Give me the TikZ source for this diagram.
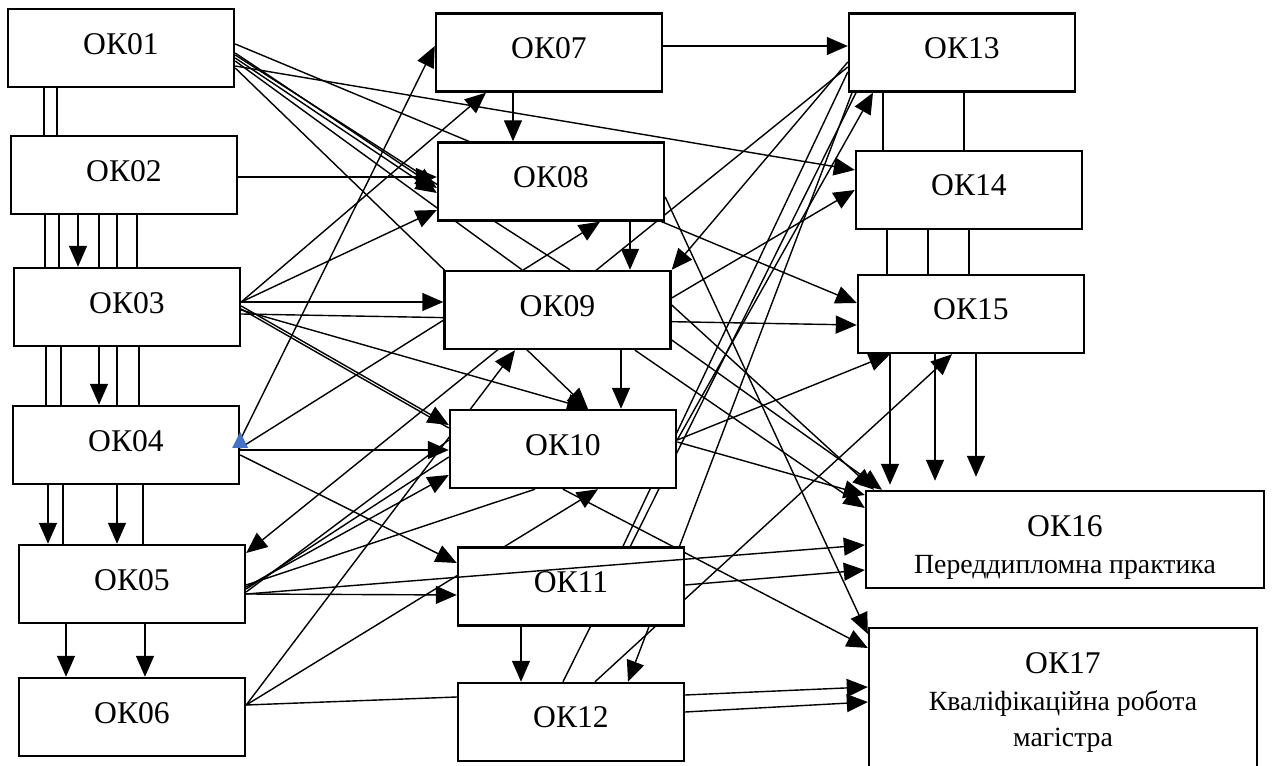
\documentclass[tikz,border=0pt]{standalone}
\usepackage{fontspec}
\setmainfont{Liberation Serif}
\usetikzlibrary{arrows.meta,backgrounds}

\definecolor{markblue}{HTML}{4472C4}
\tikzset{
  okbox/.style={draw, line width=1.4pt, fill=white, minimum width=4.52cm, minimum height=1.56cm, inner sep=0pt, text depth=0.18cm},
  bigbox/.style={draw, line width=1.4pt, fill=white, inner sep=0pt, align=center},
  ln/.style={line width=0.8pt},
  arr/.style={ln, -{Triangle[length=4.2mm,width=3.6mm]}},
}
\newcommand\subtxt[1]{{\fontsize{15.8}{21}\selectfont #1}}

\begin{document}
\begin{tikzpicture}[x=0.02cm, y=-0.02cm, every node/.style={font=\fontsize{18}{21}\selectfont}]
  \useasboundingbox (0,0) rectangle (1272,766);

  % Left column
  \node[okbox] (ok01) at (121,48) {ОК01};
  \node[okbox] (ok02) at (124,175) {ОК02};
  \node[okbox] (ok03) at (127,307) {ОК03};
  \node[okbox] (ok04) at (126,445) {ОК04};
  \node[okbox] (ok05) at (132,584) {ОК05};
  \node[okbox] (ok06) at (132,717) {ОК06};

  % Middle column
  \node[okbox] (ok07) at (549,52.5) {ОК07};
  \node[okbox] (ok08) at (551,181.5) {ОК08};
  \node[okbox] (ok09) at (557.5,310) {ОК09};
  \node[okbox] (ok10) at (563,449) {ОК10};
  \node[okbox] (ok11) at (571,586.5) {ОК11};
  \node[okbox] (ok12) at (571,722) {ОК12};

  % Right column
  \node[okbox] (ok13) at (962,52.5) {ОК13};
  \node[okbox] (ok14) at (969,190) {ОК14};
  \node[okbox] (ok15) at (971,314) {ОК15};
  \node[bigbox, minimum width=7.96cm, minimum height=1.94cm] (ok16) at (1065,539.5)
    {\rule{0pt}{0.75cm}ОК16\\ \subtxt{Переддипломна практика}};
  \node[bigbox, minimum width=7.76cm, minimum height=2.8cm] (ok17) at (1063,698)
    {\rule{0pt}{0.6cm}ОК17\\ \subtxt{Кваліфікаційна робота}\\ \subtxt{магістра}};

  \begin{pgfonlayer}{background}
    % Left column links
    \foreach \x in {44,57} \draw[ln] (ok01.south -| \x,0) -- (ok02.north -| \x,0);
    \foreach \x in {45,59,99,117,137} \draw[ln] (ok02.south -| \x,0) -- (ok03.north -| \x,0);
    \draw[arr] (ok02.south -| 78,0) -- (ok03.north -| 78,0);
    \foreach \x in {46,61,117,139} \draw[ln] (ok03.south -| \x,0) -- (ok04.north -| \x,0);
    \draw[arr] (ok03.south -| 99,0) -- (ok04.north -| 99,0);
    \foreach \x in {63,143} \draw[ln] (ok04.south -| \x,0) -- (ok05.north -| \x,0);
    \foreach \x in {48,117} \draw[arr] (ok04.south -| \x,0) -- (ok05.north -| \x,0);
    \foreach \x in {66,145} \draw[arr] (ok05.south -| \x,0) -- (ok06.north -| \x,0);

    % Middle column links
    \draw[arr] (ok07.south -| 513,0) -- (ok08.north -| 513,0);
    \draw[arr] (ok08.south -| 630,0) -- (ok09.north -| 630,0);
    \draw[arr] (ok09.south -| 621,0) -- (ok10.north -| 621,0);
    \draw[arr] (ok11.south -| 521,0) -- (ok12.north -| 521,0);

    % Right column links
    \foreach \x in {883,964} \draw[ln] (ok13.south -| \x,0) -- (ok14.north -| \x,0);
    \foreach \x in {887,928,969} \draw[ln] (ok14.south -| \x,0) -- (ok15.north -| \x,0);
    \foreach \x/\gap in {890/1mm,935/1.8mm,976/2.6mm}
      \draw[arr, shorten >=\gap] (ok15.south -| \x,0) -- (ok16.north -| \x,0);

    % From OK01
    \draw[arr] (ok01.east |- 0,44) -- (ok15.west |- 0,303);
    \draw[arr] (ok01.east |- 0,66) -- (ok14.west |- 0,170);
    \draw[arr] (ok01.east |- 0,53) -- (ok08.west |- 0,188);
    \draw[arr] (ok01.east |- 0,58) -- (ok08.west |- 0,193);
    \draw[ln] (ok01.east |- 0,61) -- (ok09.north -| 522,0);
    \draw[ln] (ok01.east |- 0,55) -- (ok09.north -| 570,0);
    \draw[arr] (ok01.east |- 0,68) -- (ok10.north -| 588,0);

    % From OK02
    \draw[arr] (ok02.east |- 0,177) -- (ok08.west |- 0,177);

    % From OK03
    \draw[arr] (ok03.east |- 0,302) -- (ok07.south -| 486,0);
    \draw[arr] (ok03.east |- 0,302) -- (ok08.west |- 0,210);
    \draw[arr] (ok03.east |- 0,302) -- (ok09.west |- 0,302);
    \draw[arr] (ok03.east |- 0,314) -- (ok15.west |- 0,325);
    \draw[arr] (ok03.east |- 0,310) -- (ok10.north -| 588,0);
    \draw[arr] (ok03.east |- 0,306) -- (ok10.west |- 0,425);
    \draw[ln] (ok03.east |- 0,309) -- (ok10.west |- 0,428);

    % From OK04
    \draw[arr] (ok04.east |- 0,440) -- (ok07.west |- 0,46);
    \draw[arr] (ok04.east |- 0,450) -- (ok10.west |- 0,450);
    \draw[arr] (ok04.east |- 0,448) -- (ok08.south -| 600,0);
    \draw[arr] (ok04.east |- 0,455) -- (ok11.west |- 0,563);

    % From OK05
    \draw[arr] (ok05.east |- 0,587) -- (ok10.west |- 0,475);
    \draw[arr] (ok05.east |- 0,594) -- (ok11.west |- 0,595);
    \draw[ln] (ok05.east |- 0,592) -- (ok10.west |- 0,440);
    \draw[ln] (ok05.east |- 0,589) -- (ok10.west |- 0,457);
    \draw[ln] (ok05.east |- 0,585) -- (ok10.south -| 535,0);

    % From OK06
    \draw[arr] (ok06.east |- 0,705) -- (ok09.south -| 515,0);
    \draw[arr] (ok06.east |- 0,705) -- (ok10.south -| 598,0);
    \draw[ln] (ok06.east |- 0,705) -- (ok12.west |- 0,697);

    % From OK07, OK08
    \draw[arr] (ok07.east |- 0,46) -- (ok13.west |- 0,46);
    \draw[arr] (ok08.east |- 0,197) -- (ok17.west |- 0,634);

    % From OK09
    \draw[arr] (ok09.east |- 0,298) -- (ok14.west |- 0,190);
    \draw[arr] (ok09.east |- 0,305) -- (ok16.north -| 874,0);
    \draw[arr] (ok09.east |- 0,340) -- (ok16.north -| 882,0);
    \draw[arr] (ok09.south -| 635,0) -- (ok16.west |- 0,508);

    % From OK10
    \draw[arr] (ok10.east |- 0,440) -- (ok13.south -| 873,0);
    \draw[arr] (ok10.east |- 0,440) -- (ok15.south -| 890,0);
    \draw[arr] (ok10.east |- 0,442) -- (ok16.west |- 0,495);
    \draw[arr] (ok10.south -| 563,0) -- (ok17.west |- 0,648);

    % From OK11, OK12
    \draw[arr] (ok11.east |- 0,585) -- (ok16.west |- 0,570);
    \draw[ln] (ok11.north -| 623,0) -- (ok13.west |- 0,72);
    \draw[arr] (ok12.east |- 0,695) -- (ok17.west |- 0,687);
    \draw[arr] (ok12.east |- 0,712) -- (ok17.west |- 0,702);
    \draw[arr] (ok12.north -| 595,0) -- (ok15.south -| 952,0);
    \draw[ln] (ok12.north -| 563,0) -- (ok13.south -| 856,0);

    % From OK13
    \draw[arr] (ok13.west |- 0,62) -- (ok09.north east);
    \draw[arr] (ok13.west |- 0,67) -- (ok05.east |- 0,553);
    \draw[arr] (ok13.south -| 852,0) -- (ok12.north -| 628,0);
  \end{pgfonlayer}

  % Line over OK11
  \draw[arr] (ok05.east |- 0,594) -- (ok16.west |- 0,545);

  % Blue marker
  \fill[markblue] (ok04.east |- 0,432) -- ++(-8,16) -- ++(16,0) -- cycle;
\end{tikzpicture}
\end{document}
